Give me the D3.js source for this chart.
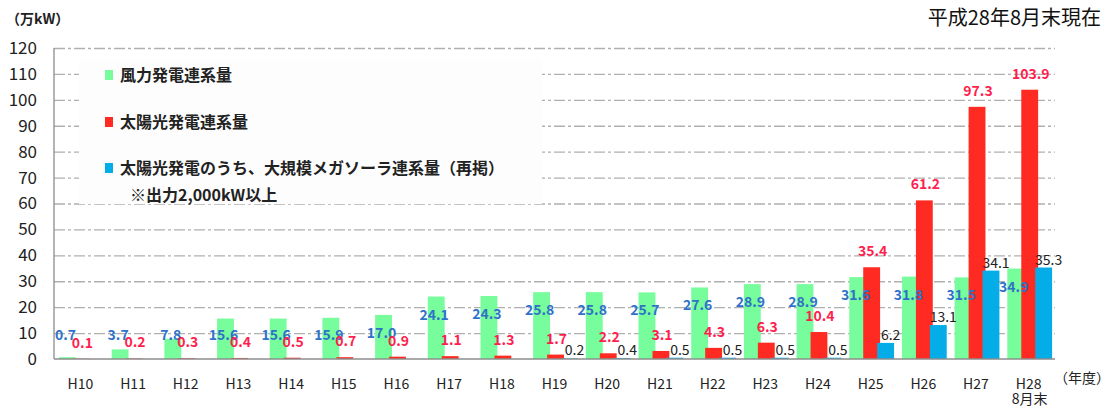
<!DOCTYPE html>
<html>
<head>
<meta charset="utf-8">
<script src="https://cdn.jsdelivr.net/npm/d3@7"></script>
<style>
  body { margin: 0; background: #fff; }
  svg text { font-family: "Noto Sans CJK JP", "Noto Sans", sans-serif; }
</style>
</head>
<body>
<div id="chart"></div>
<script>
const years = ["H10", "H11", "H12", "H13", "H14", "H15", "H16", "H17", "H18", "H19",
    "H20", "H21", "H22", "H23", "H24", "H25", "H26", "H27", "H28"];
const windValues = [0.7, 3.7, 7.8, 15.6, 15.6, 15.9, 17.0, 24.1, 24.3, 25.8,
    25.8, 25.7, 27.6, 28.9, 28.9, 31.6, 31.8, 31.5, 34.9];
const solarValues = [0.1, 0.2, 0.3, 0.4, 0.5, 0.7, 0.9, 1.1, 1.3, 1.7,
    2.2, 3.1, 4.3, 6.3, 10.4, 35.4, 61.2, 97.3, 103.9];
const megaValues = [null, null, null, null, null, null, null, null, null, 0.2,
    0.4, 0.5, 0.5, 0.5, 0.5, 6.2, 13.1, 34.1, 35.3];
const yTicks = [0, 10, 20, 30, 40, 50, 60, 70, 80, 90, 100, 110, 120];
const legendLabels = ["風力発電連系量", "太陽光発電連系量", "太陽光発電のうち、大規模メガソーラ連系量（再掲）"];

function renderChart () {
    const wSvg = 1111;
    const hSvg = 409;
    const left = 54;
    const right = 1055;
    const top = 48;
    const bottom = 359;

    const colors = ["#77fd9b", "#ff2a22", "#05ade8"];

    let svg = d3.select("#chart")
        .append("svg")
        .attr("width", wSvg)
        .attr("height", hSvg);

    let xScale = d3.scaleBand(years, [left, right]);
    let yScale = d3.scaleLinear([0, 120], [bottom, top]);
    let bw = xScale.bandwidth();

    // gridlines
    let grid = d3.axisLeft(yScale)
        .tickValues(yTicks.filter(t => t > 0))
        .tickSize(-(right - left))
        .tickFormat("");
    svg.append("g")
        .attr("transform", `translate(${left}, 0)`)
        .call(grid)
        .call(g => g.select(".domain").remove())
        .selectAll(".tick line")
        .attr("stroke", "#b0b0b0")
        .attr("stroke-width", 1.3)
        .attr("stroke-dasharray", "11,3,3,3");

    // y labels
    let yAxis = d3.axisLeft(yScale).tickValues(yTicks).tickSize(0).tickPadding(17);
    svg.append("g")
        .attr("transform", `translate(${left}, 0)`)
        .call(yAxis)
        .call(g => g.select(".domain").remove())
        .selectAll("text")
        .attr("fill", "#222")
        .style("font-size", "17px");

    // legend box covers the gridlines
    svg.append("rect")
        .attr("x", 79).attr("y", 60)
        .attr("width", 463).attr("height", 144)
        .attr("fill", "#fdfdfd");

    // bars
    let series = [
        { values: windValues, off: 0.095 },
        { values: solarValues, off: 0.36 },
        { values: megaValues, off: 0.625 }
    ];
    series.forEach((s, si) => {
        let data = years.map((y, i) => ({ year: y, v: s.values[i] })).filter(d => d.v != null);
        svg.append("g")
            .selectAll("rect")
            .data(data)
            .enter()
            .append("rect")
            .attr("x", d => xScale(d.year) + bw * s.off)
            .attr("width", bw * 0.32)
            .attr("y", d => yScale(d.v))
            .attr("height", d => bottom - yScale(d.v))
            .attr("fill", colors[si]);
    });

    // axes lines
    svg.append("line")
        .attr("x1", left).attr("x2", left)
        .attr("y1", top).attr("y2", bottom)
        .attr("stroke", "#8c8c8c").attr("stroke-width", 1.3);
    svg.append("line")
        .attr("x1", left).attr("x2", right)
        .attr("y1", bottom).attr("y2", bottom)
        .attr("stroke", "#8c8c8c").attr("stroke-width", 1.3);

    // wind labels
    svg.append("g")
        .selectAll("text")
        .data(years.map((y, i) => ({ year: y, v: windValues[i] })))
        .enter()
        .append("text")
        .attr("x", d => xScale(d.year) + bw * (0.095 + 0.16) - 2)
        .attr("y", d => Math.min(yScale(d.v) + 18, 335) + 5)
        .attr("text-anchor", "middle")
        .attr("fill", "#2f72c8")
        .style("font-size", "14px")
        .style("font-weight", "bold")
        .text(d => d.v.toFixed(1));

    // solar labels
    svg.append("g")
        .selectAll("text")
        .data(years.map((y, i) => ({ year: y, v: solarValues[i] })))
        .enter()
        .append("text")
        .attr("x", d => xScale(d.year) + bw * (0.36 + 0.16) + 1)
        .attr("y", d => yScale(d.v) - 16 + 5)
        .attr("text-anchor", "middle")
        .attr("fill", "#ff1f4f")
        .style("font-size", "14px")
        .style("font-weight", "bold")
        .text(d => d.v.toFixed(1));

    // megasolar labels
    svg.append("g")
        .selectAll("text")
        .data(years.map((y, i) => ({ year: y, v: megaValues[i] })).filter(d => d.v != null))
        .enter()
        .append("text")
        .attr("x", d => xScale(d.year) + bw * (0.625 + 0.16) + 5)
        .attr("y", d => yScale(d.v) - 8 + 5)
        .attr("text-anchor", "middle")
        .attr("fill", "#222")
        .style("font-size", "14px")
        .text(d => d.v.toFixed(1));

    // x labels
    let xAxis = d3.axisBottom(xScale).tickSize(0).tickPadding(20);
    svg.append("g")
        .attr("transform", `translate(0, ${bottom})`)
        .call(xAxis)
        .call(g => g.select(".domain").remove())
        .selectAll("text")
        .attr("fill", "#222")
        .style("font-size", "14px");

    svg.append("text")
        .attr("x", xScale("H28") + bw / 2 + 1)
        .attr("y", 404)
        .attr("text-anchor", "middle")
        .attr("fill", "#222")
        .style("font-size", "14px")
        .text("8月末");

    svg.append("text")
        .attr("x", 1054)
        .attr("y", 383)
        .attr("fill", "#222")
        .style("font-size", "14px")
        .text("（年度）");

    svg.append("text")
        .attr("x", 6)
        .attr("y", 24)
        .attr("fill", "#222")
        .style("font-size", "14px")
        .style("font-weight", "bold")
        .text("（万kW）");

    svg.append("text")
        .attr("x", 1101)
        .attr("y", 25)
        .attr("text-anchor", "end")
        .attr("fill", "#111")
        .style("font-size", "20px")
        .text("平成28年8月末現在");

    // legend
    let legendY = [75, 122, 168];
    legendLabels.forEach((label, i) => {
        svg.append("rect")
            .attr("x", 105).attr("y", legendY[i] - 5)
            .attr("width", 8).attr("height", 10)
            .attr("fill", colors[i]);
        svg.append("text")
            .attr("x", 120)
            .attr("y", legendY[i] + 6)
            .attr("fill", "#222")
            .style("font-size", "16px")
            .style("font-weight", "bold")
            .text(label);
    });
    svg.append("text")
        .attr("x", 130)
        .attr("y", 201)
        .attr("fill", "#222")
        .style("font-size", "16px")
        .style("font-weight", "bold")
        .text("※出力2,000kW以上");
}

renderChart();
</script>
</body>
</html>
